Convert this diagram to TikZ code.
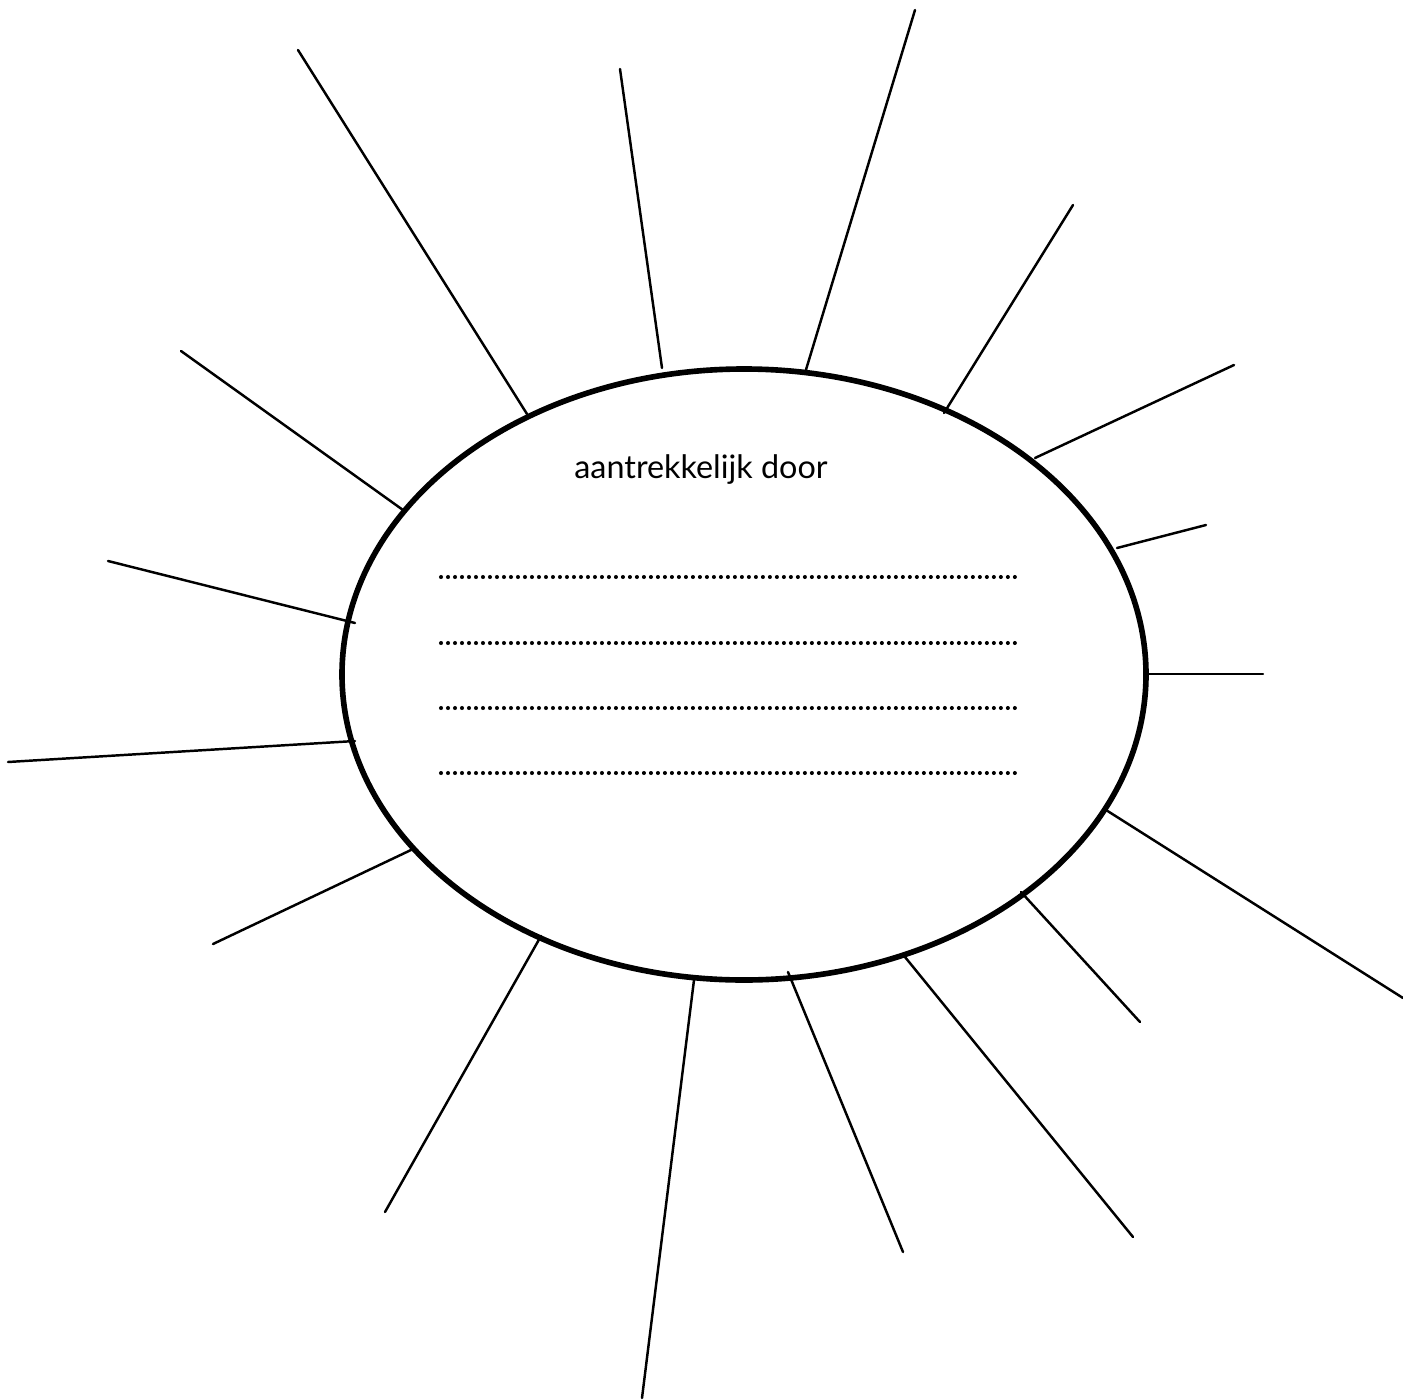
\documentclass[tikz,border=0pt]{standalone}
\usepackage{fontspec}
\setmainfont{Lato}
\tikzset{
  ray/.style={line width=0.7pt, line cap=round},
  writeline/.style={line width=1.15pt, line cap=round, dash pattern=on 0pt off 1.99pt}
}
\begin{document}
\begin{tikzpicture}[x=0.01cm, y=-0.01cm, line join=round]

    % Canvas
    \useasboundingbox (0,0) rectangle (1403,1400);

    % Centre of the sun
    \coordinate (M) at (744, 674.5);

    % Sun body
    \draw[line width=1.6pt] (M) ellipse [x radius=402, y radius=305.5];

    % Rays (inner end -- outer end)
    \foreach \ix/\iy/\ox/\oy in {
        527/414/298/50,   662/368/620/69,    805/373/915/10,
        944/413/1073/205, 1035/458/1234/365, 1117/548/1206/525,
        1148/674/1263/674, 1106/810/1403/998, 1021/892/1140/1022,
        905/957/1133/1237, 788/972/903/1252,  694/980/642/1398,
        541/936/385/1212, 411/850/213/944,   355/741/8/762,
        355/623/108/561,  403/510/181/351}
    {
        \coordinate (in) at (\ix, \iy);
        \coordinate (out) at (\ox, \oy);
        \draw[ray] (in) -- (out);
    }

    % Heading
    \node[font=\fontsize{9.2}{11}\selectfont, anchor=base] (title) at (701, 478) {aantrekkelijk door};

    % Writing lines
    \foreach \y [count=\i] in {577, 643, 708, 773} {
        \coordinate (L\i) at (441, \y);
        \coordinate (R\i) at (1015, \y);
        \draw[writeline] (L\i) -- (R\i);
    }

\end{tikzpicture}
\end{document}
